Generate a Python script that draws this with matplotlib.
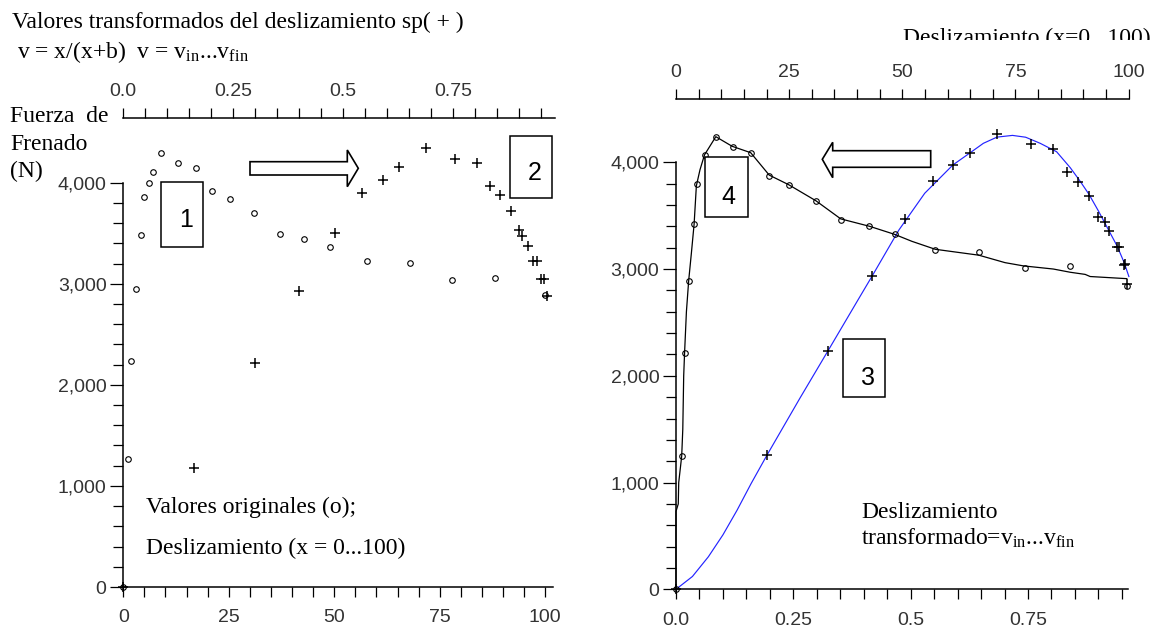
import numpy as np
import matplotlib
matplotlib.use("Agg")
import matplotlib.pyplot as plt
from matplotlib.patches import Rectangle, Polygon
from matplotlib.transforms import Affine2D, Bbox
from matplotlib.ticker import FixedLocator, FuncFormatter

plt.rcParams['font.family'] = 'Liberation Serif'
plt.rcParams['mathtext.fontset'] = 'custom'
plt.rcParams['mathtext.rm'] = 'Liberation Serif'
plt.rcParams['mathtext.it'] = 'Liberation Serif:italic'

# ---- data ----
# left panel: original values (o) against slip x = 0...100
left_x = [0, 1.2, 1.9, 3, 4.1, 5, 6, 7.1, 9, 13.1, 17.2, 21.1, 25.3, 30.9, 37.2,
          42.9, 49, 57.8, 68, 78, 88, 100]
left_f = [0, 1263, 2236, 2945, 3479, 3855, 3997, 4109, 4297, 4192, 4142, 3921, 3838,
          3703, 3492, 3446, 3367, 3225, 3210, 3037, 3060, 2889]
# left panel: transformed slip v (+)
left_v = [0, 0.16, 0.299, 0.399, 0.482, 0.543, 0.591, 0.627, 0.688, 0.755, 0.804,
          0.834, 0.856, 0.882, 0.899, 0.907, 0.921, 0.932, 0.941, 0.949, 0.956, 0.963]
left_fv = [0, 1174, 2213, 2931, 3499, 3895, 4026, 4158, 4346, 4231, 4190, 3968, 3875,
           3723, 3532, 3472, 3377, 3228, 3228, 3047, 3047, 2882]

# right panel: original values (o) and their curve, against x (top axis)
right_x = [0, 1.26, 1.9, 2.8, 4.05, 4.55, 6.4, 8.8, 12.6, 16.5, 20.6, 24.9, 30.85,
           36.4, 42.75, 48.3, 57.3, 66.9, 77.2, 86.95, 99.6]
right_f = [0, 1249, 2218, 2891, 3425, 3800, 4065, 4240, 4142, 4085, 3872, 3788, 3639,
           3460, 3404, 3325, 3179, 3157, 3007, 3026, 2844]
curve_x = [0, 0, 0.5, 0.6, 1.0, 1.26, 1.5, 1.7, 1.9, 2.3, 2.8, 3.4, 4.0, 4.5, 5.3, 6.3,
           8.8, 12.4, 16.5, 20.6, 24.9, 30.9, 36.4, 42.8, 48.3, 52.1, 57.3, 66.9, 72.7,
           76.7, 83.4, 87.1, 90.4, 91.5, 99.6]
curve_f = [0, 730, 800, 1000, 1150, 1249, 1500, 2000, 2220, 2600, 2891, 3150, 3420,
           3780, 3930, 4070, 4240, 4150, 4090, 3880, 3790, 3640, 3470, 3400, 3325, 3260,
           3185, 3130, 3060, 3030, 3000, 2970, 2950, 2930, 2910]

# right panel: transformed values (+) and fitted curve, against v (bottom axis)
right_v = [0, 0.194, 0.324, 0.418, 0.488, 0.547, 0.590, 0.627, 0.683, 0.757, 0.804,
           0.834, 0.857, 0.881, 0.899, 0.914, 0.923, 0.940, 0.944, 0.954, 0.957, 0.962]
right_fv = [0, 1258, 2235, 2935, 3466, 3825, 3975, 4090, 4268, 4171, 4120, 3909, 3820,
            3680, 3485, 3444, 3356, 3204, 3210, 3038, 3045, 2860]
fit_v = [0, 0.035, 0.069, 0.10, 0.13, 0.16, 0.194, 0.264, 0.324, 0.387, 0.418, 0.475,
         0.53, 0.59, 0.627, 0.655, 0.684, 0.717, 0.745, 0.776, 0.811, 0.84, 0.86, 0.88,
         0.90, 0.92, 0.94, 0.955, 0.965]
fit_f = [0, 120, 305, 510, 740, 990, 1258, 1790, 2235, 2705, 2935, 3366, 3710, 3975,
         4090, 4178, 4236, 4252, 4235, 4178, 4099, 3950, 3830, 3700, 3545, 3380, 3215,
         3060, 2930]

f_ticks = [0, 1000, 2000, 3000, 4000]
x_ticks = [0, 25, 50, 75, 100]
v_ticks = [0, 0.25, 0.5, 0.75]
v_labels = ['0.0', '0.25', '0.5', '0.75']

# ---- figure in pixel units ----
W, H = 1154, 632
fig = plt.figure(figsize=(W / 100, H / 100), dpi=100)
pix = Affine2D().scale(1 / W, -1 / H).translate(0, 1) + fig.transFigure


def add_axes_px(x0, y0, x1, y1):
    return fig.add_axes([x0 / W, 1 - y1 / H, (x1 - x0) / W, (y1 - y0) / H])


def span(p0, p1, origin, scale):
    return (p0 - origin) / scale, (p1 - origin) / scale


thousands = FuncFormatter(lambda v, p: f"{int(v):,}")
tick_font = dict(labelsize=14, labelcolor='#333333', labelfontfamily='Liberation Sans')


def style(ax, top, x_major, x_minor, x_labels, x_bound, t_major, t_minor, t_labels,
          t_bound, bot_pad, top_pad):
    for s in ['top', 'right']:
        ax.spines[s].set_visible(False)
    for s in ['left', 'right', 'bottom']:
        top.spines[s].set_visible(False)
    ax.spines['left'].set_position(('data', 0))
    ax.spines['bottom'].set_position(('data', 0))
    ax.spines['left'].set_bounds(0, 4000)
    ax.spines['bottom'].set_bounds(*x_bound)
    top.spines['top'].set_bounds(*t_bound)
    for sp in [ax.spines['left'], ax.spines['bottom'], top.spines['top']]:
        sp.set_linewidth(1.1)

    ax.yaxis.set_major_locator(FixedLocator(f_ticks))
    ax.yaxis.set_minor_locator(FixedLocator(np.arange(0, 4001, 200)))
    ax.yaxis.set_major_formatter(thousands)
    ax.set_xticks(x_major, x_labels)
    ax.xaxis.set_minor_locator(FixedLocator(x_minor))
    top.set_xticks(t_major, t_labels)
    top.xaxis.set_minor_locator(FixedLocator(t_minor))

    ax.tick_params(which='both', direction='out', width=0.9, **tick_font)
    ax.tick_params(axis='y', which='major', length=9.5, pad=2.5)
    ax.tick_params(axis='y', which='minor', length=7.5)
    ax.tick_params(axis='x', which='both', length=7.5, pad=bot_pad)
    top.tick_params(which='both', direction='out', width=0.9, length=7, pad=top_pad,
                    **tick_font)


# ---- left panel ----
L_X0, L_XS = 123.2, 4.22      # px of x=0, px per unit of x
L_V0, L_VS = 123.2, 440.0     # px of v=0, px per unit of v
L_F0, L_FS = 587.0, 0.10108   # px of F=0, px per newton
axL = add_axes_px(100, 118.3, 565, 615)
axL.set_xlim(*span(100, 565, L_X0, L_XS))
axL.set_ylim(*span(-615, -118.3, -L_F0, L_FS))
axL2 = axL.twiny()
axL2.set_xlim(*span(100, 565, L_V0, L_VS))
style(axL, axL2, x_ticks, np.arange(0, 101, 5), [str(t) for t in x_ticks], (0, 101.8),
      v_ticks, np.arange(0, 0.951, 0.05), v_labels, (0, 0.981), 8, 6.5)

axL.plot(left_x, left_f, 'o', ms=4, mfc='none', mec='black', mew=0.8, clip_on=False)
axL2.plot(left_v, left_fv, '+', ms=7.5, mec='black', mew=1.1, clip_on=False)

# ---- right panel ----
R_V0, R_VS = 676.0, 469.3
R_X0, R_XS = 676.0, 4.526
R_F0, R_FS = 589.3, 0.10675
axR = add_axes_px(655, 99, 1150, 615)
axR.set_xlim(*span(655, 1150, R_V0, R_VS))
axR.set_ylim(*span(-615, -99, -R_F0, R_FS))
axR2 = axR.twiny()
axR2.set_xlim(*span(655, 1150, R_X0, R_XS))
style(axR, axR2, v_ticks, np.arange(0, 0.951, 0.05), v_labels, (0, 0.963),
      x_ticks, np.arange(0, 101, 5), [str(t) for t in x_ticks], (0, 100), 9, 6)

axR.plot(fit_v, fit_f, color='#2323ff', lw=0.85, clip_on=False)
axR.plot(right_v, right_fv, '+', ms=7.5, mec='black', mew=1.1, clip_on=False)
axR2.plot(curve_x, curve_f, color='black', lw=0.9, clip_on=False)
axR2.plot(right_x, right_f, 'o', ms=4, mfc='none', mec='black', mew=0.8, clip_on=False)

# ---- annotations (pixel coordinates) ----
serif = dict(fontsize=17, color='black', transform=pix)
fig.text(12, 22, "Valores transformados del deslizamiento sp( + )", va='center', **serif)
fig.text(17, 52, r"v = x/(x+b)  v = v$_{\mathrm{in}}$...v$_{\mathrm{fin}}$",
         va='center', **serif)
fig.text(10, 117, "Fuerza  de", va='center', **serif)
fig.text(10, 144, "Frenado", va='center', **serif)
fig.text(10, 171, "(N)", va='center', **serif)
fig.text(146, 507, "Valores originales (o);", va='center', **serif)
fig.text(146, 548, "Deslizamiento (x = 0...100)", va='center', **serif)
fig.text(861, 512, "Deslizamiento", va='center', **serif)
fig.text(861, 538, r"transformado=v$_{\mathrm{in}}$...v$_{\mathrm{fin}}$",
         va='center', **serif)
t = fig.text(903, 44, "Deslizamiento (x=0...100)", va='baseline', **serif)
t.set_clip_box(Bbox([[0, H - 40], [W, H]]))
t.set_clip_on(True)

boxes = [(160.7, 181.7, 203, 246.7, "1", 185.7, 220),
         (510.3, 136, 552.2, 197.7, "2", 535, 173),
         (842.7, 339.3, 884.9, 396.7, "3", 867.7, 378),
         (705.3, 156.7, 747.5, 217.3, "4", 728.4, 197)]
for x0, y0, x1, y1, lab, tx, ty in boxes:
    fig.add_artist(Rectangle((x0, y0), x1 - x0, y1 - y0, transform=pix, fill=True,
                             fc='white', ec='black', lw=1.1))
    fig.text(tx, ty, lab, ha='center', va='center', fontsize=18,
             family='Liberation Sans', transform=pix)

arrow_r = [(250, 161.7), (347.3, 161.7), (347.3, 150), (358.3, 168.3), (347.3, 186.7),
           (347.3, 175), (250, 175)]
arrow_l = [(930.7, 150.7), (832.7, 150.7), (832.7, 142.3), (822.3, 159.3),
           (832.7, 177.7), (832.7, 167.3), (930.7, 167.3)]
for pts in [arrow_r, arrow_l]:
    fig.add_artist(Polygon(pts, closed=True, transform=pix, fc='white', ec='black',
                           lw=1.2))

fig.savefig("out.png", dpi=100)
